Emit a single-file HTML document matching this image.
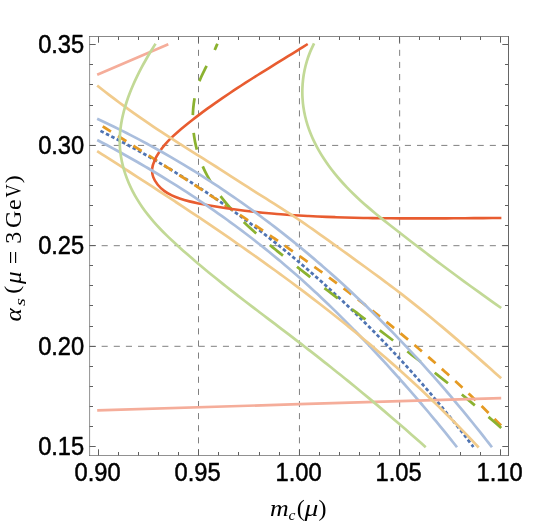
<!DOCTYPE html>
<html><head><meta charset="utf-8"><title>plot</title>
<style>
html,body{margin:0;padding:0;background:#fff;}
body{width:545px;height:525px;overflow:hidden;font-family:"Liberation Sans",sans-serif;}
svg{display:block;will-change:transform;}
.tl{font-family:"Liberation Sans",sans-serif;font-size:25.2px;fill:#000;stroke:#000;stroke-width:0.5px;stroke-linejoin:round;}
.ser{font-family:"Liberation Serif",serif;fill:#000;}
</style></head><body>
<svg width="545" height="525" viewBox="0 0 545 525">
<rect x="0" y="0" width="545" height="525" fill="#fff"/>
<g stroke="#808080" stroke-width="1.0" stroke-dasharray="6.08 6.03" fill="none">
<line x1="198.50" y1="455.50" x2="198.50" y2="36.50"/>
<line x1="299.45" y1="455.50" x2="299.45" y2="36.50"/>
<line x1="399.65" y1="455.50" x2="399.65" y2="36.50"/>
</g>
<g stroke="#808080" stroke-width="1.0" stroke-dasharray="6.1 6.03" fill="none">
<line x1="89.50" y1="145.40" x2="508.50" y2="145.40"/>
<line x1="89.50" y1="245.70" x2="508.50" y2="245.70"/>
<line x1="89.50" y1="346.30" x2="508.50" y2="346.30"/>
</g>
<g fill="none" stroke-linecap="butt" stroke-linejoin="round">
<path d="M473.41 446.97C472.47 445.74 469.66 442.04 467.77 439.59C465.89 437.14 463.99 434.69 462.08 432.25C460.17 429.81 458.25 427.38 456.32 424.95C454.40 422.53 452.46 420.11 450.51 417.69C448.56 415.28 446.61 412.88 444.64 410.48C442.68 408.08 440.70 405.69 438.72 403.31C436.73 400.93 434.74 398.55 432.73 396.18C430.73 393.82 428.71 391.45 426.69 389.10C424.67 386.75 422.64 384.40 420.60 382.07C418.55 379.73 416.50 377.40 414.44 375.08C412.38 372.76 410.31 370.45 408.23 368.14C406.16 365.84 404.07 363.54 401.97 361.25C399.87 358.96 397.77 356.68 395.65 354.41C393.53 352.14 391.41 349.87 389.28 347.62C387.14 345.36 385.00 343.11 382.85 340.88C380.69 338.64 378.53 336.41 376.36 334.19C374.19 331.97 372.01 329.76 369.82 327.55C367.63 325.35 365.44 323.16 363.23 320.97C361.02 318.79 358.81 316.61 356.58 314.44C354.36 312.28 352.13 310.12 349.88 307.97C347.64 305.82 345.39 303.69 343.13 301.56C340.87 299.43 338.60 297.31 336.32 295.20C334.05 293.09 331.76 290.99 329.46 288.90C327.17 286.81 324.86 284.73 322.55 282.65C320.24 280.58 317.92 278.52 315.59 276.47C313.26 274.42 310.92 272.38 308.57 270.35C306.22 268.32 303.87 266.30 301.50 264.29C299.14 262.28 296.76 260.28 294.38 258.29C292.00 256.30 289.61 254.32 287.21 252.35C284.81 250.38 282.40 248.42 279.99 246.48C277.57 244.53 275.15 242.59 272.71 240.67C270.28 238.74 267.84 236.83 265.39 234.92C262.94 233.02 260.48 231.13 258.01 229.25C255.55 227.36 253.07 225.49 250.59 223.64C248.11 221.78 245.62 219.93 243.12 218.09C240.62 216.26 238.11 214.43 235.59 212.62C233.07 210.80 230.55 209.00 228.02 207.21C225.48 205.42 222.94 203.64 220.39 201.88C217.85 200.11 215.29 198.35 212.72 196.61C210.16 194.87 207.58 193.14 205.00 191.42C202.42 189.70 199.83 187.99 197.23 186.30C194.64 184.61 192.03 182.92 189.42 181.25C186.80 179.58 184.18 177.93 181.55 176.28C178.92 174.64 176.28 173.00 173.64 171.38C170.99 169.77 168.34 168.16 165.68 166.56C163.02 164.97 160.35 163.39 157.67 161.82C155.00 160.25 152.31 158.70 149.62 157.15C146.93 155.61 144.23 154.08 141.52 152.57C138.81 151.05 136.09 149.55 133.37 148.06C130.65 146.57 127.92 145.09 125.18 143.63C122.44 142.17 119.69 140.72 116.94 139.28C114.19 137.84 111.42 136.42 108.65 135.01C105.89 133.61 101.71 131.53 100.32 130.83" stroke="#4f74b3" stroke-width="2.75" stroke-dasharray="3.6 2.45" stroke-dashoffset="0.47"/>
<path d="M501.07 425.58C499.99 424.48 496.76 421.17 494.59 418.98C492.43 416.79 490.25 414.61 488.06 412.44C485.88 410.27 483.69 408.11 481.49 405.96C479.29 403.81 477.08 401.66 474.86 399.53C472.64 397.39 470.42 395.27 468.19 393.15C465.96 391.04 463.72 388.93 461.47 386.83C459.23 384.74 456.97 382.65 454.71 380.57C452.45 378.49 450.18 376.42 447.91 374.35C445.63 372.29 443.35 370.24 441.06 368.19C438.77 366.14 436.47 364.11 434.17 362.08C431.87 360.05 429.56 358.02 427.24 356.01C424.92 354.00 422.60 351.99 420.27 349.99C417.94 348.00 415.61 346.01 413.26 344.02C410.92 342.04 408.57 340.07 406.22 338.10C403.86 336.13 401.50 334.17 399.14 332.22C396.77 330.27 394.40 328.33 392.02 326.39C389.64 324.45 387.26 322.52 384.87 320.60C382.48 318.67 380.08 316.76 377.68 314.85C375.28 312.94 372.88 311.04 370.47 309.14C368.05 307.24 365.64 305.36 363.22 303.47C360.79 301.59 358.37 299.71 355.94 297.84C353.50 295.98 351.07 294.11 348.63 292.25C346.18 290.40 343.74 288.55 341.29 286.70C338.84 284.86 336.38 283.02 333.92 281.19C331.46 279.35 329.00 277.53 326.53 275.71C324.06 273.88 321.59 272.07 319.11 270.26C316.63 268.45 314.15 266.65 311.67 264.85C309.18 263.05 306.69 261.25 304.20 259.47C301.70 257.68 299.21 255.89 296.71 254.12C294.21 252.34 291.70 250.57 289.19 248.80C286.69 247.03 284.18 245.27 281.66 243.51C279.15 241.75 276.63 240.00 274.11 238.25C271.59 236.50 269.06 234.76 266.54 233.02C264.01 231.28 261.48 229.54 258.95 227.81C256.41 226.08 253.88 224.35 251.34 222.63C248.80 220.91 246.26 219.19 243.72 217.47C241.17 215.76 238.63 214.05 236.08 212.34C233.53 210.63 230.98 208.93 228.43 207.23C225.87 205.53 223.32 203.83 220.76 202.14C218.20 200.45 215.65 198.76 213.08 197.07C210.52 195.39 207.96 193.71 205.40 192.03C202.83 190.35 200.27 188.67 197.70 187.00C195.13 185.32 192.56 183.65 189.99 181.99C187.42 180.32 184.85 178.65 182.28 176.99C179.70 175.33 177.13 173.67 174.55 172.01C171.98 170.36 169.40 168.70 166.82 167.05C164.25 165.40 161.67 163.75 159.09 162.10C156.51 160.45 153.93 158.81 151.35 157.16C148.77 155.52 146.19 153.88 143.61 152.24C141.03 150.60 138.45 148.96 135.87 147.32C133.28 145.69 130.70 144.05 128.12 142.42C125.54 140.79 122.96 139.15 120.37 137.52C117.79 135.89 115.21 134.27 112.63 132.64C110.05 131.01 107.47 129.38 104.89 127.76C102.31 126.13 98.44 123.70 97.15 122.88" stroke="#e59a22" stroke-width="2.75" stroke-dasharray="9.8 8.35" stroke-dashoffset="0.36"/>
<path d="M501.23 428.00C500.05 426.97 496.51 423.85 494.14 421.79C491.77 419.74 489.40 417.69 487.03 415.66C484.66 413.62 482.28 411.60 479.90 409.59C477.53 407.58 475.14 405.58 472.76 403.59C470.38 401.60 467.99 399.62 465.60 397.65C463.21 395.68 460.82 393.71 458.42 391.76C456.03 389.81 453.63 387.86 451.23 385.92C448.83 383.99 446.43 382.06 444.02 380.13C441.62 378.21 439.21 376.30 436.80 374.39C434.39 372.48 431.98 370.58 429.57 368.68C427.15 366.78 424.74 364.89 422.32 363.00C419.90 361.11 417.48 359.23 415.06 357.36C412.64 355.48 410.21 353.60 407.79 351.73C405.36 349.86 402.93 348.00 400.51 346.13C398.08 344.27 395.65 342.41 393.21 340.55C390.78 338.69 388.35 336.83 385.91 334.97C383.48 333.12 381.04 331.26 378.60 329.41C376.16 327.55 373.72 325.70 371.28 323.84C368.84 321.99 366.40 320.13 363.96 318.28C361.51 316.42 359.07 314.57 356.62 312.71C354.18 310.85 351.73 308.99 349.28 307.13C346.84 305.26 344.39 303.40 341.94 301.53C339.49 299.66 337.04 297.79 334.59 295.92C332.14 294.04 329.69 292.16 327.24 290.28C324.79 288.40 322.34 286.51 319.88 284.62C317.43 282.72 314.98 280.82 312.52 278.92C310.07 277.01 307.62 275.10 305.16 273.19C302.71 271.27 300.25 269.34 297.80 267.41C295.35 265.48 292.89 263.54 290.44 261.59C287.98 259.65 285.53 257.69 283.07 255.72C280.62 253.76 278.16 251.79 275.72 249.80C273.27 247.81 270.83 245.82 268.40 243.80C265.98 241.79 263.56 239.76 261.18 237.72C258.79 235.67 256.42 233.60 254.08 231.52C251.74 229.43 249.43 227.32 247.15 225.19C244.88 223.05 242.64 220.90 240.45 218.71C238.25 216.52 236.10 214.31 234.00 212.06C231.90 209.82 229.85 207.54 227.86 205.23C225.87 202.92 223.94 200.57 222.07 198.19C220.21 195.80 218.40 193.38 216.67 190.92C214.95 188.46 213.29 185.96 211.71 183.41C210.14 180.86 208.64 178.27 207.23 175.63C205.83 172.99 204.50 170.31 203.28 167.57C202.06 164.83 200.92 162.04 199.89 159.20C198.87 156.36 197.94 153.46 197.12 150.51C196.31 147.56 195.60 144.55 195.00 141.50C194.41 138.45 193.93 135.35 193.58 132.24C193.22 129.12 192.98 125.97 192.87 122.82C192.75 119.67 192.76 116.50 192.90 113.35C193.05 110.20 193.32 107.05 193.72 103.93C194.13 100.82 194.67 97.71 195.36 94.66C196.04 91.61 196.86 88.59 197.83 85.64C198.80 82.69 199.94 79.80 201.17 76.96C202.40 74.12 203.81 71.36 205.20 68.60C206.59 65.84 208.10 63.13 209.53 60.39C210.95 57.65 212.42 54.93 213.73 52.15C215.05 49.37 216.80 45.12 217.41 43.71" stroke="#8bb230" stroke-width="2.75" stroke-dasharray="16.9 17.87"/>
<path d="M307.72 44.01C306.41 44.83 302.50 47.29 299.88 48.92C297.27 50.55 294.65 52.17 292.04 53.78C289.43 55.40 286.81 57.01 284.20 58.63C281.59 60.24 278.98 61.85 276.38 63.46C273.77 65.07 271.17 66.68 268.57 68.29C265.97 69.91 263.37 71.52 260.78 73.14C258.19 74.76 255.60 76.39 253.02 78.02C250.44 79.66 247.86 81.30 245.29 82.95C242.72 84.60 240.16 86.25 237.61 87.93C235.05 89.60 232.51 91.28 229.97 92.98C227.43 94.67 224.90 96.38 222.38 98.11C219.86 99.83 217.35 101.57 214.85 103.33C212.35 105.10 209.86 106.87 207.39 108.67C204.91 110.47 202.44 112.29 199.99 114.13C197.54 115.97 195.10 117.84 192.67 119.73C190.25 121.62 187.83 123.53 185.44 125.47C183.04 127.42 180.64 129.37 178.31 131.40C175.98 133.43 173.67 135.48 171.47 137.64C169.27 139.81 167.11 142.02 165.11 144.38C163.10 146.74 161.17 149.18 159.45 151.78C157.72 154.38 155.97 157.17 154.76 159.98C153.55 162.79 152.42 165.80 152.17 168.66C151.92 171.51 152.33 174.46 153.26 177.14C154.19 179.82 155.93 182.46 157.75 184.75C159.57 187.04 161.84 189.09 164.19 190.87C166.53 192.65 169.14 194.12 171.83 195.45C174.52 196.78 177.42 197.85 180.35 198.84C183.28 199.83 186.36 200.62 189.43 201.37C192.49 202.13 195.64 202.76 198.74 203.40C201.85 204.03 204.95 204.62 208.04 205.19C211.13 205.75 214.20 206.29 217.27 206.80C220.34 207.32 223.40 207.80 226.46 208.27C229.51 208.73 232.55 209.16 235.59 209.58C238.63 209.99 241.67 210.38 244.70 210.75C247.73 211.12 250.75 211.47 253.77 211.80C256.80 212.13 259.82 212.44 262.83 212.73C265.85 213.02 268.87 213.29 271.89 213.55C274.91 213.81 277.92 214.05 280.94 214.28C283.96 214.51 286.98 214.73 290.00 214.93C293.03 215.13 296.06 215.32 299.09 215.50C302.12 215.68 305.16 215.85 308.20 216.01C311.24 216.17 314.28 216.32 317.33 216.46C320.38 216.60 323.43 216.73 326.49 216.85C329.54 216.97 332.60 217.09 335.66 217.19C338.72 217.30 341.79 217.39 344.86 217.48C347.93 217.57 351.00 217.65 354.07 217.73C357.14 217.80 360.21 217.87 363.29 217.93C366.37 217.99 369.44 218.04 372.52 218.09C375.60 218.14 378.68 218.18 381.76 218.21C384.84 218.25 387.93 218.28 391.01 218.30C394.09 218.33 397.17 218.35 400.25 218.37C403.34 218.38 406.42 218.39 409.50 218.40C412.58 218.41 415.66 218.41 418.74 218.41C421.82 218.41 424.90 218.41 427.98 218.40C431.06 218.39 434.14 218.38 437.21 218.37C440.29 218.36 443.36 218.35 446.43 218.33C449.50 218.32 452.57 218.30 455.64 218.28C458.70 218.26 461.77 218.24 464.83 218.22C467.89 218.20 470.95 218.18 474.00 218.16C477.05 218.14 480.10 218.11 483.15 218.09C486.20 218.07 489.24 218.05 492.28 218.03C495.32 218.01 499.86 217.98 501.38 217.97" stroke="#e85c30" stroke-width="2.6"/>
<path d="M97.15 118.82C98.55 119.47 102.79 121.43 105.59 122.76C108.40 124.09 111.20 125.43 113.99 126.79C116.78 128.15 119.56 129.52 122.33 130.91C125.10 132.29 127.87 133.69 130.62 135.11C133.38 136.52 136.13 137.95 138.87 139.40C141.61 140.84 144.34 142.30 147.06 143.77C149.78 145.24 152.49 146.72 155.20 148.22C157.90 149.72 160.60 151.23 163.29 152.76C165.97 154.28 168.65 155.82 171.33 157.37C174.00 158.93 176.66 160.49 179.31 162.07C181.97 163.65 184.61 165.24 187.25 166.85C189.89 168.45 192.51 170.07 195.13 171.70C197.75 173.33 200.37 174.97 202.97 176.63C205.57 178.28 208.17 179.95 210.75 181.63C213.34 183.31 215.92 185.01 218.49 186.71C221.05 188.42 223.62 190.14 226.17 191.87C228.72 193.60 231.26 195.34 233.80 197.09C236.33 198.85 238.86 200.62 241.38 202.39C243.90 204.17 246.41 205.96 248.91 207.76C251.41 209.57 253.90 211.38 256.39 213.20C258.87 215.03 261.35 216.86 263.82 218.71C266.28 220.56 268.74 222.42 271.19 224.29C273.64 226.16 276.09 228.04 278.52 229.93C280.95 231.82 283.38 233.73 285.80 235.64C288.21 237.56 290.62 239.48 293.02 241.42C295.42 243.35 297.81 245.30 300.20 247.26C302.58 249.21 304.95 251.18 307.32 253.16C309.69 255.13 312.05 257.12 314.39 259.12C316.74 261.12 319.09 263.13 321.42 265.14C323.75 267.16 326.07 269.19 328.39 271.23C330.71 273.27 333.01 275.32 335.31 277.37C337.61 279.43 339.90 281.50 342.18 283.58C344.46 285.65 346.74 287.74 349.00 289.83C351.27 291.93 353.52 294.04 355.77 296.15C358.02 298.26 360.26 300.39 362.49 302.52C364.72 304.65 366.95 306.79 369.16 308.94C371.38 311.09 373.58 313.25 375.78 315.42C377.98 317.59 380.17 319.77 382.35 321.95C384.53 324.14 386.70 326.33 388.87 328.53C391.03 330.73 393.19 332.94 395.33 335.16C397.48 337.38 399.62 339.61 401.75 341.84C403.88 344.08 406.00 346.32 408.12 348.57C410.23 350.82 412.33 353.08 414.43 355.35C416.53 357.61 418.62 359.89 420.70 362.17C422.78 364.45 424.85 366.74 426.91 369.04C428.98 371.33 431.03 373.64 433.08 375.95C435.12 378.26 437.16 380.58 439.19 382.90C441.22 385.23 443.24 387.56 445.26 389.90C447.27 392.24 449.27 394.58 451.27 396.94C453.27 399.29 455.25 401.65 457.23 404.02C459.21 406.38 461.18 408.76 463.15 411.13C465.11 413.51 467.06 415.90 469.01 418.29C470.95 420.68 472.89 423.08 474.82 425.48C476.75 427.89 478.67 430.30 480.58 432.71C482.50 435.13 484.40 437.55 486.30 439.98C488.19 442.41 491.02 446.06 491.96 447.28" stroke="#aabedd" stroke-width="2.7"/>
<path d="M97.21 140.00C98.56 140.71 102.60 142.83 105.30 144.27C107.99 145.70 110.67 147.14 113.36 148.60C116.04 150.06 118.71 151.52 121.39 153.00C124.06 154.48 126.72 155.97 129.38 157.47C132.04 158.97 134.70 160.48 137.35 162.01C140.00 163.53 142.64 165.06 145.28 166.61C147.92 168.15 150.55 169.71 153.17 171.28C155.80 172.85 158.42 174.43 161.03 176.02C163.64 177.61 166.25 179.21 168.85 180.83C171.45 182.44 174.04 184.07 176.63 185.71C179.21 187.34 181.79 188.99 184.37 190.65C186.94 192.31 189.50 193.98 192.06 195.67C194.62 197.35 197.17 199.04 199.71 200.75C202.25 202.46 204.78 204.18 207.31 205.90C209.84 207.63 212.35 209.38 214.86 211.13C217.37 212.88 219.88 214.65 222.37 216.42C224.86 218.20 227.35 219.99 229.83 221.79C232.30 223.59 234.77 225.40 237.23 227.22C239.69 229.04 242.14 230.88 244.58 232.73C247.02 234.57 249.45 236.43 251.88 238.30C254.30 240.17 256.71 242.05 259.12 243.95C261.52 245.84 263.91 247.75 266.30 249.67C268.68 251.59 271.06 253.52 273.42 255.46C275.78 257.40 278.14 259.35 280.48 261.32C282.83 263.29 285.16 265.26 287.48 267.25C289.81 269.24 292.12 271.25 294.42 273.26C296.72 275.27 299.02 277.30 301.30 279.33C303.58 281.37 305.85 283.42 308.12 285.47C310.38 287.53 312.63 289.60 314.88 291.68C317.12 293.76 319.35 295.84 321.58 297.94C323.80 300.04 326.02 302.15 328.23 304.27C330.43 306.39 332.63 308.52 334.82 310.65C337.01 312.79 339.19 314.94 341.36 317.09C343.53 319.25 345.69 321.41 347.85 323.58C350.00 325.75 352.15 327.93 354.29 330.12C356.43 332.31 358.56 334.51 360.68 336.71C362.80 338.91 364.91 341.13 367.02 343.34C369.13 345.56 371.23 347.79 373.32 350.02C375.41 352.26 377.49 354.50 379.57 356.74C381.65 358.99 383.72 361.24 385.78 363.50C387.84 365.76 389.90 368.02 391.95 370.29C394.00 372.56 396.04 374.84 398.07 377.12C400.11 379.40 402.14 381.69 404.16 383.98C406.18 386.27 408.20 388.57 410.21 390.87C412.22 393.17 414.22 395.48 416.22 397.79C418.21 400.11 420.20 402.43 422.18 404.75C424.16 407.08 426.14 409.41 428.10 411.75C430.07 414.08 432.03 416.42 433.98 418.77C435.93 421.12 437.88 423.48 439.81 425.84C441.75 428.20 443.68 430.57 445.60 432.94C447.52 435.32 449.43 437.70 451.34 440.09C453.24 442.47 456.08 446.07 457.02 447.27" stroke="#aabedd" stroke-width="2.7"/>
<path d="M97.20 74.85C109.05 69.76 156.45 49.39 168.30 44.30" stroke="#f5ad9a" stroke-width="2.7"/>
<path d="M97.20 410.30C164.53 408.27 433.87 400.13 501.20 398.10" stroke="#f5ad9a" stroke-width="2.7"/>
<path d="M97.20 85.50C98.41 86.46 102.02 89.36 104.45 91.26C106.87 93.16 109.32 95.05 111.77 96.92C114.22 98.79 116.69 100.65 119.16 102.49C121.64 104.33 124.12 106.15 126.62 107.96C129.12 109.77 131.63 111.57 134.14 113.35C136.66 115.14 139.19 116.91 141.72 118.67C144.26 120.42 146.80 122.17 149.35 123.90C151.90 125.64 154.46 127.36 157.03 129.07C159.60 130.78 162.17 132.48 164.75 134.17C167.33 135.87 169.92 137.55 172.51 139.22C175.10 140.89 177.70 142.55 180.30 144.21C182.90 145.87 185.51 147.51 188.12 149.15C190.73 150.80 193.35 152.43 195.96 154.07C198.57 155.71 201.19 157.34 203.80 158.97C206.41 160.61 209.03 162.25 211.63 163.89C214.24 165.53 216.85 167.18 219.45 168.84C222.05 170.49 224.64 172.16 227.23 173.83C229.82 175.50 232.41 177.19 234.99 178.87C237.58 180.54 240.17 182.22 242.76 183.89C245.36 185.56 247.96 187.21 250.56 188.87C253.17 190.52 255.78 192.16 258.39 193.80C261.00 195.44 263.61 197.08 266.22 198.72C268.83 200.36 271.45 202.00 274.05 203.65C276.66 205.30 279.26 206.95 281.86 208.62C284.45 210.28 287.05 211.95 289.62 213.64C292.20 215.33 294.77 217.03 297.34 218.75C299.90 220.47 302.45 222.20 304.99 223.95C307.53 225.69 310.07 227.45 312.60 229.21C315.13 230.98 317.65 232.76 320.16 234.54C322.68 236.32 325.19 238.11 327.70 239.91C330.21 241.71 332.71 243.51 335.22 245.31C337.72 247.12 340.22 248.93 342.72 250.73C345.22 252.54 347.72 254.35 350.22 256.16C352.71 257.97 355.21 259.78 357.71 261.59C360.21 263.40 362.71 265.21 365.20 267.03C367.69 268.84 370.18 270.66 372.67 272.48C375.16 274.30 377.64 276.13 380.12 277.96C382.60 279.79 385.08 281.63 387.55 283.48C390.02 285.32 392.48 287.18 394.93 289.04C397.39 290.91 399.84 292.78 402.28 294.66C404.72 296.55 407.15 298.44 409.58 300.35C412.00 302.26 414.42 304.17 416.82 306.10C419.23 308.02 421.63 309.96 424.03 311.90C426.42 313.85 428.81 315.80 431.19 317.76C433.58 319.72 435.95 321.69 438.32 323.67C440.69 325.65 443.05 327.63 445.41 329.62C447.77 331.61 450.12 333.61 452.47 335.61C454.81 337.62 457.16 339.63 459.49 341.64C461.83 343.66 464.17 345.68 466.50 347.70C468.82 349.72 471.15 351.75 473.47 353.79C475.79 355.82 478.11 357.85 480.43 359.89C482.74 361.93 485.06 363.97 487.37 366.02C489.68 368.06 491.98 370.11 494.29 372.15C496.59 374.20 500.05 377.28 501.20 378.30" stroke="#f1cb8c" stroke-width="2.7"/>
<path d="M97.16 151.17C98.47 152.00 102.39 154.50 105.01 156.17C107.63 157.84 110.24 159.51 112.86 161.18C115.47 162.86 118.09 164.53 120.70 166.21C123.31 167.88 125.93 169.56 128.54 171.24C131.15 172.92 133.76 174.60 136.37 176.29C138.98 177.97 141.59 179.66 144.20 181.35C146.81 183.04 149.42 184.73 152.02 186.42C154.63 188.12 157.23 189.82 159.83 191.52C162.44 193.22 165.04 194.92 167.64 196.62C170.23 198.33 172.83 200.04 175.43 201.75C178.02 203.46 180.61 205.18 183.21 206.89C185.80 208.61 188.39 210.33 190.97 212.06C193.56 213.78 196.14 215.51 198.72 217.24C201.31 218.98 203.88 220.71 206.46 222.45C209.04 224.19 211.61 225.94 214.18 227.68C216.75 229.43 219.32 231.18 221.89 232.94C224.45 234.70 227.01 236.46 229.57 238.22C232.13 239.99 234.68 241.76 237.24 243.53C239.79 245.30 242.34 247.08 244.88 248.87C247.42 250.65 249.97 252.44 252.50 254.23C255.04 256.03 257.57 257.82 260.10 259.63C262.63 261.43 265.16 263.24 267.68 265.05C270.20 266.87 272.72 268.69 275.23 270.51C277.74 272.34 280.25 274.17 282.76 276.00C285.26 277.84 287.76 279.68 290.25 281.53C292.75 283.38 295.24 285.23 297.72 287.09C300.21 288.95 302.69 290.82 305.16 292.69C307.64 294.56 310.11 296.44 312.57 298.33C315.04 300.21 317.50 302.10 319.95 304.00C322.40 305.90 324.85 307.80 327.30 309.72C329.74 311.63 332.18 313.55 334.61 315.47C337.04 317.40 339.47 319.33 341.89 321.27C344.30 323.21 346.72 325.16 349.13 327.11C351.53 329.06 353.94 331.03 356.33 332.99C358.73 334.96 361.11 336.94 363.50 338.93C365.88 340.91 368.25 342.90 370.62 344.90C372.99 346.90 375.35 348.91 377.71 350.93C380.06 352.94 382.41 354.97 384.76 357.00C387.10 359.03 389.43 361.07 391.76 363.12C394.09 365.17 396.41 367.22 398.72 369.29C401.03 371.35 403.34 373.43 405.64 375.51C407.94 377.59 410.23 379.68 412.51 381.78C414.80 383.88 417.08 385.99 419.34 388.10C421.61 390.22 423.87 392.35 426.13 394.48C428.38 396.61 430.63 398.76 432.87 400.91C435.10 403.06 437.33 405.22 439.56 407.39C441.78 409.56 443.99 411.74 446.20 413.93C448.40 416.12 450.60 418.32 452.79 420.52C454.98 422.73 457.16 424.95 459.34 427.17C461.51 429.40 463.67 431.63 465.83 433.88C467.99 436.12 470.13 438.38 472.27 440.64C474.41 442.90 477.60 446.33 478.66 447.46" stroke="#f1cb8c" stroke-width="2.7"/>
<path d="M155.57 43.67C154.78 44.94 152.40 48.70 150.83 51.29C149.26 53.89 147.69 56.53 146.16 59.22C144.62 61.91 143.10 64.65 141.63 67.42C140.16 70.19 138.72 73.01 137.33 75.86C135.95 78.70 134.60 81.59 133.33 84.49C132.06 87.40 130.83 90.34 129.70 93.30C128.56 96.25 127.49 99.24 126.51 102.23C125.54 105.23 124.64 108.25 123.85 111.27C123.07 114.29 122.37 117.33 121.79 120.37C121.22 123.40 120.74 126.45 120.40 129.50C120.06 132.54 119.84 135.58 119.76 138.62C119.69 141.65 119.74 144.69 119.95 147.70C120.15 150.72 120.50 153.73 120.99 156.71C121.47 159.70 122.09 162.67 122.84 165.61C123.58 168.56 124.46 171.48 125.44 174.37C126.43 177.25 127.54 180.11 128.75 182.93C129.96 185.75 131.28 188.54 132.70 191.28C134.11 194.02 135.63 196.73 137.23 199.37C138.83 202.02 140.53 204.63 142.30 207.17C144.06 209.72 145.92 212.21 147.83 214.65C149.75 217.08 151.74 219.47 153.79 221.81C155.83 224.15 157.94 226.44 160.08 228.70C162.22 230.96 164.43 233.17 166.65 235.36C168.88 237.55 171.15 239.70 173.43 241.83C175.72 243.96 178.04 246.06 180.36 248.15C182.68 250.24 185.02 252.30 187.37 254.35C189.72 256.41 192.07 258.44 194.44 260.46C196.80 262.48 199.18 264.49 201.56 266.48C203.94 268.47 206.33 270.45 208.72 272.42C211.12 274.39 213.52 276.35 215.93 278.29C218.34 280.24 220.76 282.17 223.18 284.10C225.60 286.03 228.03 287.94 230.47 289.85C232.90 291.76 235.34 293.66 237.78 295.56C240.22 297.45 242.66 299.34 245.11 301.23C247.56 303.11 250.01 304.99 252.47 306.87C254.92 308.74 257.38 310.62 259.84 312.49C262.30 314.36 264.76 316.22 267.22 318.09C269.68 319.96 272.14 321.83 274.60 323.69C277.07 325.56 279.53 327.43 281.99 329.30C284.45 331.17 286.91 333.04 289.37 334.92C291.83 336.79 294.29 338.67 296.75 340.56C299.20 342.44 301.66 344.33 304.11 346.22C306.56 348.12 309.00 350.02 311.45 351.92C313.89 353.83 316.34 355.74 318.78 357.66C321.21 359.57 323.65 361.49 326.08 363.42C328.52 365.34 330.94 367.28 333.37 369.21C335.80 371.15 338.22 373.09 340.64 375.04C343.05 376.98 345.47 378.94 347.88 380.89C350.29 382.85 352.70 384.81 355.10 386.78C357.50 388.75 359.90 390.72 362.30 392.70C364.69 394.67 367.08 396.65 369.47 398.64C371.85 400.63 374.23 402.62 376.61 404.62C378.98 406.61 381.35 408.62 383.72 410.62C386.09 412.63 388.45 414.64 390.80 416.66C393.16 418.67 395.51 420.70 397.86 422.72C400.20 424.75 402.54 426.78 404.88 428.81C407.21 430.85 409.54 432.89 411.86 434.93C414.18 436.98 416.50 439.03 418.81 441.08C421.12 443.14 424.58 446.23 425.73 447.26" stroke="#c2d996" stroke-width="2.7"/>
<path d="M314.09 43.35C313.41 44.81 311.25 49.16 310.05 52.12C308.85 55.08 307.79 58.08 306.88 61.10C305.96 64.12 305.19 67.18 304.55 70.24C303.91 73.31 303.42 76.39 303.06 79.48C302.69 82.57 302.47 85.67 302.38 88.76C302.29 91.85 302.33 94.94 302.51 98.02C302.68 101.09 302.99 104.16 303.43 107.20C303.86 110.23 304.43 113.26 305.12 116.24C305.81 119.22 306.64 122.18 307.56 125.10C308.49 128.02 309.55 130.91 310.69 133.76C311.84 136.61 313.10 139.43 314.45 142.21C315.80 144.98 317.25 147.72 318.78 150.41C320.31 153.10 321.93 155.75 323.61 158.35C325.30 160.96 327.07 163.52 328.90 166.03C330.72 168.53 332.62 170.99 334.57 173.41C336.52 175.82 338.53 178.18 340.59 180.51C342.65 182.83 344.76 185.11 346.91 187.35C349.07 189.60 351.27 191.80 353.51 193.97C355.74 196.14 358.02 198.28 360.33 200.39C362.64 202.49 364.98 204.57 367.35 206.62C369.71 208.68 372.11 210.70 374.51 212.71C376.92 214.72 379.36 216.70 381.80 218.67C384.24 220.64 386.70 222.59 389.16 224.53C391.62 226.47 394.09 228.39 396.56 230.31C399.03 232.23 401.50 234.14 403.96 236.05C406.43 237.95 408.89 239.85 411.35 241.74C413.81 243.64 416.27 245.52 418.73 247.41C421.19 249.29 423.65 251.17 426.11 253.04C428.57 254.91 431.04 256.78 433.50 258.64C435.96 260.50 438.43 262.36 440.90 264.21C443.36 266.06 445.83 267.91 448.31 269.75C450.78 271.60 453.26 273.44 455.75 275.27C458.23 277.11 460.72 278.94 463.21 280.77C465.71 282.60 468.21 284.43 470.72 286.25C473.22 288.07 475.74 289.89 478.26 291.71C480.78 293.53 483.31 295.34 485.85 297.15C488.39 298.97 490.94 300.78 493.50 302.58C496.06 304.39 499.92 307.10 501.21 308.00" stroke="#c2d996" stroke-width="2.7"/>
</g>
<path d="M98.50 455.50 v-6.20M98.50 36.50 v6.20M118.50 455.50 v-3.50M118.50 36.50 v3.50M138.50 455.50 v-3.50M138.50 36.50 v3.50M158.50 455.50 v-3.50M158.50 36.50 v3.50M178.50 455.50 v-3.50M178.50 36.50 v3.50M198.50 455.50 v-6.20M198.50 36.50 v6.20M218.50 455.50 v-3.50M218.50 36.50 v3.50M238.50 455.50 v-3.50M238.50 36.50 v3.50M259.50 455.50 v-3.50M259.50 36.50 v3.50M279.50 455.50 v-3.50M279.50 36.50 v3.50M299.50 455.50 v-6.20M299.50 36.50 v6.20M319.50 455.50 v-3.50M319.50 36.50 v3.50M339.50 455.50 v-3.50M339.50 36.50 v3.50M359.50 455.50 v-3.50M359.50 36.50 v3.50M379.50 455.50 v-3.50M379.50 36.50 v3.50M399.50 455.50 v-6.20M399.50 36.50 v6.20M419.50 455.50 v-3.50M419.50 36.50 v3.50M439.50 455.50 v-3.50M439.50 36.50 v3.50M460.50 455.50 v-3.50M460.50 36.50 v3.50M480.50 455.50 v-3.50M480.50 36.50 v3.50M500.50 455.50 v-6.20M500.50 36.50 v6.20M89.50 446.50 h6.20M508.50 446.50 h-6.20M89.50 426.50 h3.50M508.50 426.50 h-3.50M89.50 406.50 h3.50M508.50 406.50 h-3.50M89.50 386.50 h3.50M508.50 386.50 h-3.50M89.50 366.50 h3.50M508.50 366.50 h-3.50M89.50 346.50 h6.20M508.50 346.50 h-6.20M89.50 326.50 h3.50M508.50 326.50 h-3.50M89.50 305.50 h3.50M508.50 305.50 h-3.50M89.50 285.50 h3.50M508.50 285.50 h-3.50M89.50 265.50 h3.50M508.50 265.50 h-3.50M89.50 245.50 h6.20M508.50 245.50 h-6.20M89.50 225.50 h3.50M508.50 225.50 h-3.50M89.50 205.50 h3.50M508.50 205.50 h-3.50M89.50 185.50 h3.50M508.50 185.50 h-3.50M89.50 165.50 h3.50M508.50 165.50 h-3.50M89.50 145.50 h6.20M508.50 145.50 h-6.20M89.50 125.50 h3.50M508.50 125.50 h-3.50M89.50 105.50 h3.50M508.50 105.50 h-3.50M89.50 84.50 h3.50M508.50 84.50 h-3.50M89.50 64.50 h3.50M508.50 64.50 h-3.50M89.50 44.50 h6.20M508.50 44.50 h-6.20" stroke="#606060" stroke-width="1.0" fill="none"/>
<g stroke="#666" fill="none"><line x1="89.60" y1="36.00" x2="89.60" y2="456.00" stroke-width="0.72"/><line x1="508.50" y1="36.00" x2="508.50" y2="456.00" stroke-width="1"/><line x1="89.10" y1="36.50" x2="509.00" y2="36.50" stroke-width="0.78"/><line x1="89.10" y1="455.50" x2="509.00" y2="455.50" stroke-width="0.72"/></g>
<text class="tl" transform="translate(97.60,480.90) scale(0.94,1)" text-anchor="middle">0.90</text>
<text class="tl" transform="translate(197.60,480.90) scale(0.94,1)" text-anchor="middle">0.95</text>
<text class="tl" transform="translate(298.60,480.90) scale(0.94,1)" text-anchor="middle">1.00</text>
<text class="tl" transform="translate(398.60,480.90) scale(0.94,1)" text-anchor="middle">1.05</text>
<text class="tl" transform="translate(499.60,480.90) scale(0.94,1)" text-anchor="middle">1.10</text>
<text class="tl" transform="translate(84.20,454.50) scale(0.94,1)" text-anchor="end">0.15</text>
<text class="tl" transform="translate(84.20,354.50) scale(0.94,1)" text-anchor="end">0.20</text>
<text class="tl" transform="translate(84.20,253.50) scale(0.94,1)" text-anchor="end">0.25</text>
<text class="tl" transform="translate(84.20,153.50) scale(0.94,1)" text-anchor="end">0.30</text>
<text class="tl" transform="translate(84.20,52.50) scale(0.94,1)" text-anchor="end">0.35</text>
<text class="ser" transform="translate(21.00,321.60) rotate(-90) scale(1.05,1)" font-size="24" font-style="italic">&#945;</text>
<text class="ser" transform="translate(24.90,306.10) rotate(-90) scale(1.3,1)" font-size="15.6" font-style="italic">s</text>
<text class="ser" transform="translate(18.60,293.82) rotate(-90) scale(1.12,1)" font-size="21.5">(</text>
<text class="ser" transform="translate(21.00,283.90) rotate(-90) scale(1.05,1)" font-size="24" font-style="italic">&#956;</text>
<text class="ser" transform="translate(21.00,264.30) rotate(-90) scale(1.0,1)" font-size="24">=</text>
<text class="ser" transform="translate(21.00,243.80) rotate(-90) scale(1.0,1)" font-size="24">3</text>
<text class="ser" transform="translate(21.00,228.10) rotate(-90) scale(1.0,1)" font-size="24">G</text>
<text class="ser" transform="translate(21.00,209.90) rotate(-90) scale(1.0,1)" font-size="24">e</text>
<text class="ser" transform="translate(21.00,197.40) rotate(-90) scale(0.76,1)" font-size="24">V</text>
<text class="ser" transform="translate(20.10,183.30) rotate(-90) scale(1.12,1)" font-size="21.5">)</text>
<text class="ser" transform="translate(270.12,516.00) scale(1.08,1)" font-size="24" font-style="italic">m</text>
<text class="ser" transform="translate(288.60,519.80) scale(1.0,1)" font-size="15.6" font-style="italic">c</text>
<text class="ser" transform="translate(296.80,516.00) scale(1.0,1)" font-size="24">(</text>
<text class="ser" transform="translate(304.40,516.00) scale(1.15,1)" font-size="24" font-style="italic">&#956;</text>
<text class="ser" transform="translate(318.60,516.00) scale(1.0,1)" font-size="24">)</text>
</svg>
</body></html>
